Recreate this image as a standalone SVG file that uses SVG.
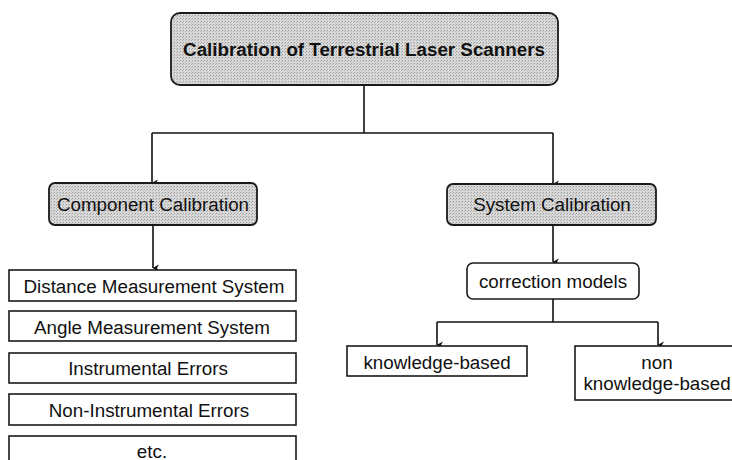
<svg xmlns="http://www.w3.org/2000/svg" width="732" height="460" viewBox="0 0 732 460">
<defs>
<marker id="arr" markerWidth="8" markerHeight="8" refX="4" refY="7" orient="auto" markerUnits="userSpaceOnUse" viewBox="0 0 8 8">
<path d="M0.5,1 L4,7.5 L7.5,1 L4,3 Z" fill="#111"/>
</marker>
<pattern id="stip" width="3" height="3" patternUnits="userSpaceOnUse">
<rect width="3" height="3" fill="#d8d8d8"/>
<rect x="0" y="0" width="1" height="1" fill="#9a9a9a"/>
<rect x="2" y="1" width="1" height="1" fill="#b4b4b4"/>
</pattern>
</defs>
<style>
.g{fill:url(#stip);stroke:#1a1a1a;stroke-width:1.8}
.w{fill:#fff;stroke:#1a1a1a;stroke-width:1.6}
.t{font-family:"Liberation Sans",Arial,sans-serif;font-size:18.8px;fill:#111;text-anchor:middle;dominant-baseline:central}
.b{font-weight:bold}
.c{fill:none;stroke:#111;stroke-width:1.6}
</style>
<rect width="732" height="460" fill="#fff"/>
<g id="connectors">
<path class="c" d="M364,85 V133"/>
<path class="c" d="M152,133 H553"/>
<path class="c" d="M152,133 V183" marker-end="url(#arr)"/>
<path class="c" d="M553,133 V184" marker-end="url(#arr)"/>
<path class="c" d="M153,225 V268" marker-end="url(#arr)"/>
<path class="c" d="M553,225 V262" marker-end="url(#arr)"/>
<path class="c" d="M553,299 V322"/>
<path class="c" d="M437,322 H658"/>
<path class="c" d="M437,322 V345" marker-end="url(#arr)"/>
<path class="c" d="M658,322 V345" marker-end="url(#arr)"/>
</g>
<g id="root">
<rect class="g" x="171" y="13" width="387" height="72" rx="9"/>
<text class="t b" x="364" y="49">Calibration of Terrestrial Laser Scanners</text>
</g>
<g id="component">
<rect class="g" x="49" y="183" width="208" height="42" rx="6"/>
<text class="t" x="153" y="204">Component Calibration</text>
</g>
<g id="system">
<rect class="g" x="447" y="184" width="209" height="41" rx="6"/>
<text class="t" x="552" y="204">System Calibration</text>
</g>
<g id="distance">
<rect class="w" x="9" y="270" width="287" height="31"/>
<text class="t" x="154" y="286">Distance Measurement System</text>
</g>
<g id="angle">
<rect class="w" x="9" y="311" width="287" height="30"/>
<text class="t" x="152" y="327">Angle Measurement System</text>
</g>
<g id="instrumental">
<rect class="w" x="9" y="353" width="287" height="30"/>
<text class="t" x="148" y="368">Instrumental Errors</text>
</g>
<g id="noninstrumental">
<rect class="w" x="9" y="394" width="287" height="31"/>
<text class="t" x="149" y="410">Non-Instrumental Errors</text>
</g>
<g id="etc">
<rect class="w" x="9" y="436" width="287" height="30"/>
<text class="t" x="152" y="451">etc.</text>
</g>
<g id="correction">
<rect class="w" x="467" y="263" width="172" height="36" rx="6"/>
<text class="t" x="553" y="281">correction models</text>
</g>
<g id="knowledge">
<rect class="w" x="347" y="346" width="180" height="30"/>
<text class="t" x="437" y="362">knowledge-based</text>
</g>
<g id="nonknowledge">
<rect class="w" x="575" y="346" width="165" height="54"/>
<text class="t" x="657" y="362">non</text>
<text class="t" x="657" y="383">knowledge-based</text>
</g>
</svg>
